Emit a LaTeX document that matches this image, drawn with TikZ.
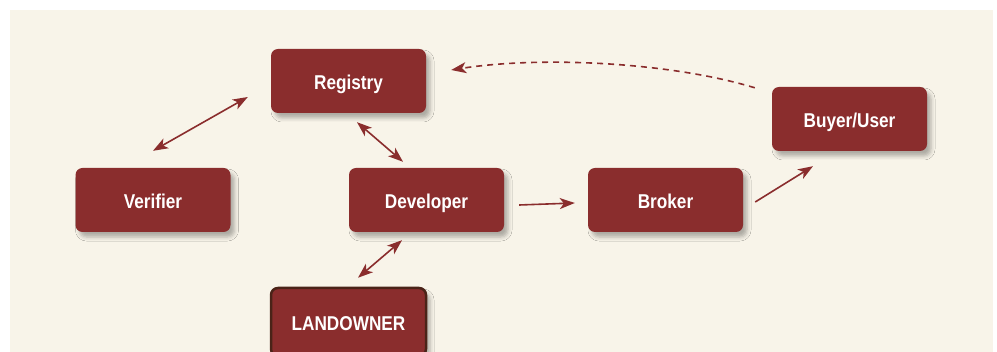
\documentclass[tikz,border=0pt]{standalone}
\usepackage{fontspec}
\setmainfont{Liberation Sans}[FakeStretch=0.86]
\usetikzlibrary{arrows.meta,shadows.blur}

\definecolor{paper}{HTML}{F8F4E9}
\definecolor{brick}{HTML}{8A2D2D}
\definecolor{darkrim}{HTML}{4A2318}

\tikzset{
  actor/.style={
    fill=brick, draw=none, rounded corners=7pt,
    minimum width=155pt, minimum height=64pt, inner sep=0pt,
    text height=17pt, text depth=0pt,
    text=white, font=\fontsize{20}{24}\selectfont\bfseries,
    blur shadow={shadow xshift=4pt, shadow yshift=-5pt,
                 shadow blur radius=4pt, shadow opacity=30}
  },
  owner/.style={actor, draw=darkrim, line width=2.5pt, minimum height=68pt},
  link/.style={draw=brick, line width=1.6pt,
    -{Stealth[length=15pt,width=11pt,inset=4pt]}},
  twoway/.style={link,
    {Stealth[length=15pt,width=11pt,inset=4pt]}-{Stealth[length=15pt,width=11pt,inset=4pt]}},
  payback/.style={link, dash pattern=on 6pt off 5pt}
}

\begin{document}
\begin{tikzpicture}[x=1pt,y=-1pt]
  \useasboundingbox (0,0) rectangle (997,352);
  \fill[paper] (10,10) rectangle (993,360);

  \node[actor] (reg) at (348.5,81)  {Registry};
  \node[actor] (ver) at (153,200)   {Verifier};
  \node[actor] (dev) at (426.5,200) {Developer};
  \node[actor] (brk) at (665.5,200) {Broker};
  \node[actor] (buy) at (849.5,119) {Buyer/User};
  \node[owner] (land) at (348.5,322) {LANDOWNER};

  \draw[twoway] ([shift={(0,-17)}]ver.north) -- ([shift={(-23,16)}]reg.west);
  \draw[twoway] ([shift={(8.5,9)}]reg.south) -- ([shift={(-23.5,-6)}]dev.north);
  \draw[link]   ([shift={(15,5)}]dev.east) -- ([shift={(-13,3)}]brk.west);
  \draw[link]   ([shift={(12,2)}]brk.east) -- ([shift={(-36.5,15)}]buy.south);
  \draw[twoway] ([shift={(-24.5,8)}]dev.south) -- ([shift={(9.5,-9)}]land.north);

  \coordinate (payA) at ([shift={(-17,1)}]buy.north west);
  \coordinate (payB) at ([shift={(25,-11)}]reg.east);
  \draw[payback] (payA) .. controls (670,62) and (540,56) .. (payB);
\end{tikzpicture}
\end{document}
